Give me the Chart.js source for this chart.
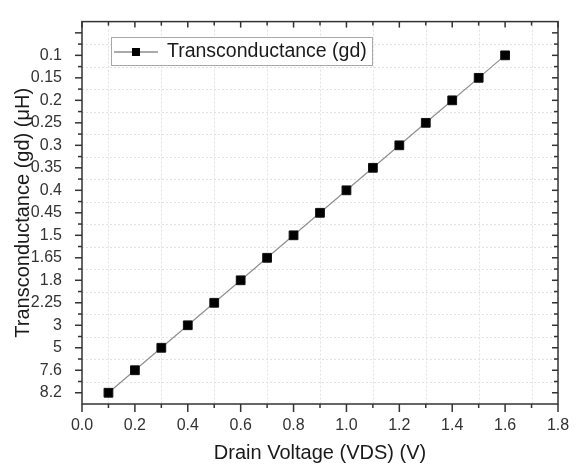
<!DOCTYPE html>
<html><head><meta charset="utf-8">
<script src="https://cdn.jsdelivr.net/npm/chart.js@4/dist/chart.umd.min.js"></script>
<style>html,body{margin:0;padding:0;background:#fff}#wrap{width:576px;height:467px}</style>
</head><body><div id="wrap"><canvas id="c" width="576" height="467"></canvas></div>
<script>
// ---- data ----
const drainVoltage = [0.1, 0.2, 0.3, 0.4, 0.5, 0.6, 0.7, 0.8, 0.9, 1.0, 1.1, 1.2, 1.3, 1.4, 1.5, 1.6];
const transconductance = ['8.2', '7.6', '5', '3', '2.25', '1.8', '1.65', '1.5', '0.45', '0.4', '0.35', '0.3', '0.25', '0.2', '0.15', '0.1'];
// y-axis categories, bottom to top (last one is an unlabeled slot)
const yCategories = ['8.2', '7.6', '5', '3', '2.25', '1.8', '1.65', '1.5', '0.45', '0.4', '0.35', '0.3', '0.25', '0.2', '0.15', '0.1', ''];
const xTickValues = [0, 0.2, 0.4, 0.6, 0.8, 1.0, 1.2, 1.4, 1.6, 1.8];
const xMinorValues = [0.1, 0.3, 0.5, 0.7, 0.9, 1.1, 1.3, 1.5, 1.7];
const seriesName = 'Transconductance (gd)';
const xTitle = 'Drain Voltage (VDS) (V)';
const yTitle = 'Transconductance (gd) (\u03bcH)';

const FONT = "'Liberation Sans', Arial, sans-serif";
const points = drainVoltage.map((x, i) => ({ x: x, y: yCategories.indexOf(transconductance[i]) }));

const framePlugin = {
  id: 'frame',
  beforeDatasetsDraw(chart) {
    const { ctx, chartArea: a, scales: { x, y } } = chart;
    ctx.save();
    ctx.strokeStyle = '#e2e2e2';
    ctx.lineWidth = 1;
    ctx.setLineDash([2, 2]);
    xMinorValues.forEach(v => {
      const px = Math.round(x.getPixelForValue(v)) + 0.5;
      ctx.beginPath(); ctx.moveTo(px, a.top); ctx.lineTo(px, a.bottom); ctx.stroke();
    });
    for (let i = 0; i < yCategories.length - 1; i++) {
      const py = Math.round(y.getPixelForValue(i + 0.5)) + 0.5;
      ctx.beginPath(); ctx.moveTo(a.left, py); ctx.lineTo(a.right, py); ctx.stroke();
    }
    ctx.restore();
  },
  afterDatasetsDraw(chart) {
    const { ctx, chartArea: a, scales: { x, y } } = chart;
    ctx.save();
    ctx.strokeStyle = '#333';
    ctx.lineWidth = 1.5;
    ctx.setLineDash([]);
    const seg = (x1, y1, x2, y2) => { ctx.beginPath(); ctx.moveTo(x1, y1); ctx.lineTo(x2, y2); ctx.stroke(); };
    xTickValues.forEach(v => {
      const px = x.getPixelForValue(v);
      seg(px, a.bottom, px, a.bottom + 8);
      seg(px, a.top, px, a.top + 6);
    });
    xMinorValues.forEach(v => {
      const px = x.getPixelForValue(v);
      seg(px, a.bottom, px, a.bottom + 4);
      seg(px, a.top, px, a.top + 4);
    });
    for (let i = 0; i < yCategories.length; i++) {
      const py = y.getPixelForValue(i);
      seg(a.left, py, a.left - 7, py);
      seg(a.right, py, a.right - 6, py);
    }
    for (let i = 0; i < yCategories.length - 1; i++) {
      const py = y.getPixelForValue(i + 0.5);
      seg(a.left, py, a.left - 4, py);
      seg(a.right, py, a.right - 4, py);
    }
    ctx.strokeRect(a.left, a.top, a.right - a.left, a.bottom - a.top);

    // legend
    const lx = 111, ly = 37, lw = 261, lh = 28;
    ctx.fillStyle = '#fff';
    ctx.fillRect(lx, ly, lw, lh);
    ctx.strokeStyle = '#a8a8a8';
    ctx.lineWidth = 1;
    ctx.strokeRect(lx + 0.5, ly + 0.5, lw, lh);
    const cy = ly + lh / 2 + 1;
    ctx.strokeStyle = '#555';
    ctx.lineWidth = 1;
    seg(lx + 3, cy, lx + 47, cy);
    ctx.fillStyle = '#000';
    ctx.fillRect(lx + 25 - 4, cy - 4, 8, 8);
    ctx.fillStyle = '#1a1a1a';
    ctx.font = '19.5px ' + FONT;
    ctx.textBaseline = 'middle';
    ctx.textAlign = 'left';
    ctx.fillText(seriesName, lx + 56, cy);
    ctx.restore();
  }
};

new Chart(document.getElementById('c'), {
  type: 'scatter',
  data: {
    datasets: [{
      label: seriesName,
      data: points,
      showLine: true,
      borderColor: '#8f8f8f',
      borderWidth: 1.2,
      pointStyle: 'rect',
      pointRadius: 6.2,
      pointHoverRadius: 6.2,
      pointBackgroundColor: '#000',
      pointBorderColor: '#111',
      pointBorderWidth: 1
    }]
  },
  options: {
    responsive: false,
    animation: false,
    devicePixelRatio: 1,
    layout: { padding: { top: 10, right: 18, left: 0, bottom: 0 } },
    plugins: { legend: { display: false }, tooltip: { enabled: false } },
    scales: {
      x: {
        type: 'linear', min: 0, max: 1.8,
        afterBuildTicks: s => { s.ticks = xTickValues.map(v => ({ value: v })); },
        afterFit: s => { s.height = 63; },
        grid: { display: false },
        border: { display: false },
        ticks: { padding: 4, color: '#333', font: { family: FONT, size: 16 }, maxRotation: 0, autoSkip: false,
          callback: v => Number(v).toFixed(1) },
        title: { display: true, text: xTitle, color: '#1a1a1a', font: { family: FONT, size: 20 }, padding: { top: 0, bottom: 2 } }
      },
      y: {
        type: 'linear', min: -0.5, max: yCategories.length - 0.5,
        afterBuildTicks: s => { s.ticks = yCategories.map((_, i) => ({ value: i })); },
        afterFit: s => { s.width = 82; },
        grid: { display: false },
        border: { display: false },
        ticks: { padding: 12, color: '#333', font: { family: FONT, size: 16 }, autoSkip: false,
          callback: v => yCategories[v] },
        title: { display: true, text: yTitle, color: '#1a1a1a', font: { family: FONT, size: 20 }, padding: { top: 11, bottom: 0 } }
      }
    }
  },
  plugins: [framePlugin]
});
</script>
</body></html>
